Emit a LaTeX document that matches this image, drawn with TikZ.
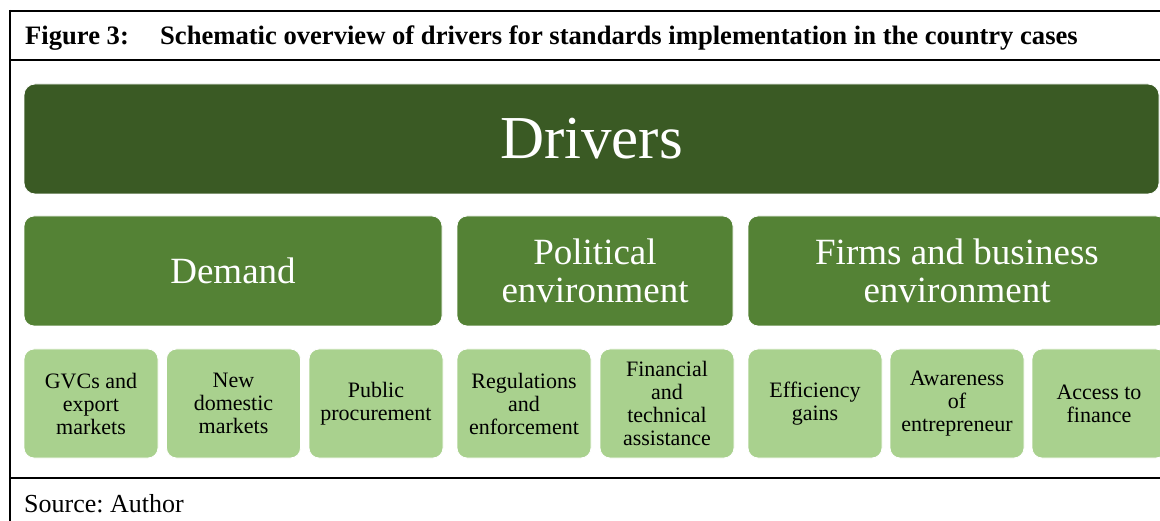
\documentclass[tikz,border=0pt]{standalone}
\usepackage{fontspec}
\setmainfont{Liberation Serif}
\frenchspacing
\definecolor{dk}{HTML}{3A5A24}
\definecolor{md}{HTML}{548235}
\definecolor{lt}{HTML}{A9D18E}
\begin{document}
\begin{tikzpicture}[x=1pt,y=-1pt,
  frame/.style={line width=2pt,black},
  gbox/.style={draw=white,line width=0.8pt,anchor=north west,inner sep=0pt,outer sep=0pt,align=center},
  topbox/.style={gbox,fill=dk,text=white,rounded corners=11pt,minimum width=1135pt,minimum height=110pt,font=\fontsize{61}{66}\selectfont},
  midbox/.style={gbox,fill=md,text=white,rounded corners=10pt,minimum height=110pt,font=\fontsize{37}{38}\selectfont},
  lowbox/.style={gbox,fill=lt,text=black,rounded corners=10pt,minimum width=134pt,minimum height=109pt,font=\fontsize{22}{23}\selectfont},
  txt/.style={anchor=base west,inner sep=0pt,font=\fontsize{26}{28}\selectfont},
  ttl/.style={txt,font=\fontsize{26.6}{28}\selectfont\bfseries}
]
\useasboundingbox (0,0) rectangle (1160,521);
\clip (0,0) rectangle (1160,521);
\draw[frame] (10,11) -- (1161,11);
\draw[frame] (10,60) -- (1161,60);
\draw[frame] (10,478) -- (1161,478);
\draw[frame] (10,10) -- (10,522);
\node[ttl] (fig) at (25,45) {Figure 3:};
\node[ttl] (title) at (160,45) {Schematic overview of drivers for standards implementation in the country cases};
\node[txt] (src) at (24,512) {Source: Author};

\node[topbox] (drivers) at (24,84) {Drivers};

\node[midbox,minimum width=418pt] (demand) at (24,216) {Demand};
\node[midbox,minimum width=276pt] (political) at (457,216) {Political\\environment};
\node[midbox,minimum width=418pt] (firms) at (748,216) {Firms and business\\environment};

\node[lowbox] (gvc) at (24,349) {GVCs and\\export\\markets};
\node[lowbox] (newdom) at (166.5,349) {New\\domestic\\markets};
\node[lowbox] (public) at (309,349) {Public\\procurement};
\node[lowbox] (reg) at (457,349) {Regulations\\and\\enforcement};
\node[lowbox] (fin) at (600,349) {Financial\\and\\technical\\assistance};
\node[lowbox] (eff) at (748,349) {Efficiency\\gains};
\node[lowbox] (aware) at (890,349) {Awareness\\of\\entrepreneur};
\node[lowbox] (access) at (1032,349) {Access to\\finance};
\end{tikzpicture}
\end{document}
